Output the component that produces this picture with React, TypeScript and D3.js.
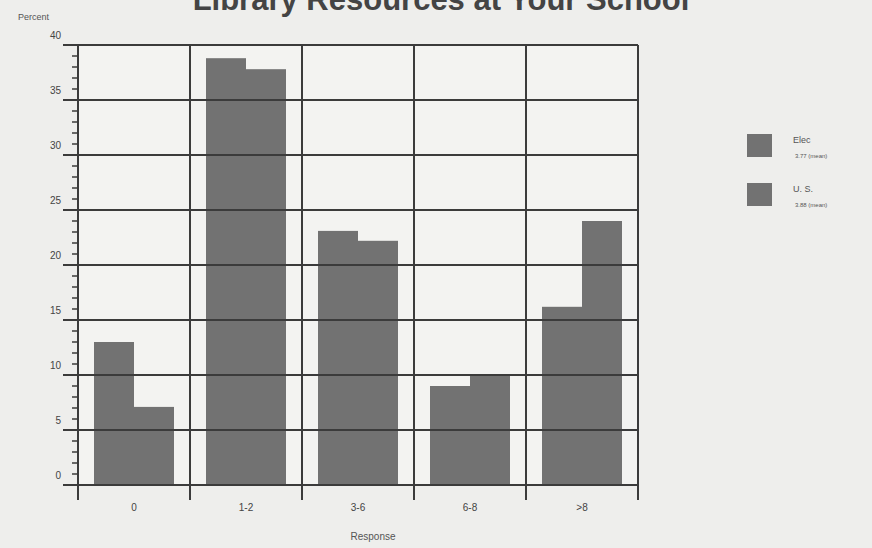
import * as d3 from 'd3'

const categories = ['0', '1-2', '3-6', '6-8', '>8']
const seriesNames = ['Elec', 'U. S.']
const seriesMeans = ['3.77 (mean)', '3.88 (mean)']
const elecValues = [13, 38.8, 23.1, 9, 16.2]
const usValues = [7.1, 37.8, 22.2, 10, 24]
const yTicks = [0, 5, 10, 15, 20, 25, 30, 35, 40]

const W = 872
const H = 548
const plot = { left: 78, right: 638, top: 45, bottom: 485 }
const font = '"Liberation Sans", Arial, sans-serif'
const lineColor = '#3b3b3b'
const barColor = '#727272'

export default function App() {
  const x = d3.scaleBand<string>().domain(categories).range([plot.left, plot.right]).padding(0)
  const xSub = d3.scaleBand<string>().domain(seriesNames).range([0, x.bandwidth()]).paddingInner(0).paddingOuter(0.4)
  const y = d3.scaleLinear().domain([0, 40]).range([plot.bottom, plot.top])
  const minorTicks = d3.range(0, 41).filter(v => v % 5 !== 0)

  const bars = categories.flatMap((c, i) => [
    { cat: c, s: seriesNames[0], v: elecValues[i] },
    { cat: c, s: seriesNames[1], v: usValues[i] }
  ])

  const vLines = categories.map(c => x(c) as number).concat([plot.right])

  return (
    <svg width={W} height={H} style={{ position: 'absolute', left: 0, top: 0, background: '#eeeeec' }}>
      <rect x={0} y={0} width={W} height={H} fill="#eeeeec" />
      <rect x={plot.left} y={plot.top} width={plot.right - plot.left} height={plot.bottom - plot.top} fill="#f3f3f1" />

      {/* title sits partly above the top edge, as in the scan */}
      <text x={441} y={10} textAnchor="middle" fontFamily={font} fontWeight="bold" fontSize={31} fill="#444">
        Library Resources at Your School
      </text>
      <text x={18} y={20} fontFamily={font} fontSize={9} fill="#555">Percent</text>

      {bars.map((b, i) => (
        <rect key={i}
          x={(x(b.cat) as number) + (xSub(b.s) as number)}
          y={y(b.v)}
          width={xSub.bandwidth()}
          height={plot.bottom - y(b.v)}
          fill={barColor} />
      ))}

      {/* horizontal grid */}
      {yTicks.map(t => (
        <line key={'h' + t} x1={63} x2={plot.right} y1={y(t)} y2={y(t)} stroke={lineColor} strokeWidth={2} />
      ))}
      {/* vertical grid */}
      {vLines.map((vx, i) => (
        <line key={'v' + i} x1={vx} x2={vx} y1={plot.top} y2={plot.bottom + 15} stroke={lineColor} strokeWidth={2} />
      ))}
      {minorTicks.map(t => (
        <line key={'m' + t} x1={72} x2={plot.left} y1={y(t)} y2={y(t)} stroke={lineColor} strokeWidth={1.5} />
      ))}

      {yTicks.map(t => (
        <text key={'yl' + t} x={61} y={y(t) - 6.5} textAnchor="end" fontFamily={font} fontSize={10} fill="#444">{t}</text>
      ))}
      {categories.map(c => (
        <text key={'xl' + c} x={(x(c) as number) + x.bandwidth() / 2} y={511} textAnchor="middle" fontFamily={font} fontSize={10} fill="#444">{c}</text>
      ))}
      <text x={373} y={540} textAnchor="middle" fontFamily={font} fontSize={10} fill="#555">Response</text>

      {seriesNames.map((s, i) => (
        <g key={'lg' + s} transform={`translate(747, ${134 + i * 49})`}>
          <rect x={0} y={0} width={25} height={23} fill={barColor} />
          <text x={46} y={9} fontFamily={font} fontSize={9} fill="#555">{s}</text>
          <text x={48} y={24} fontFamily={font} fontSize={6} fill="#555">{seriesMeans[i]}</text>
        </g>
      ))}
    </svg>
  )
}
